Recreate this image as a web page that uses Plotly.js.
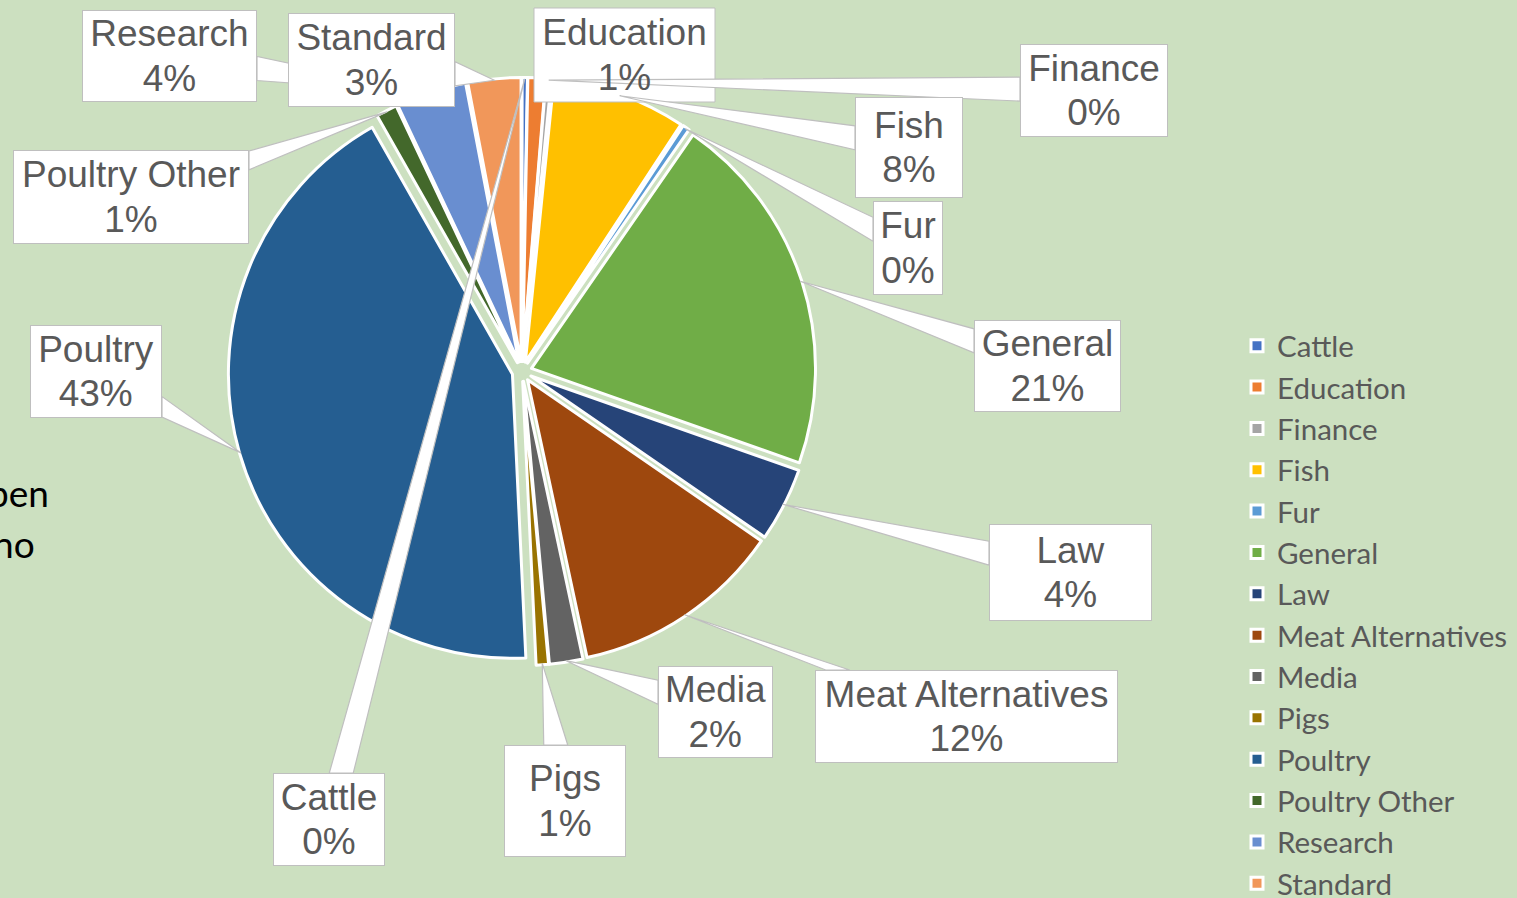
<!DOCTYPE html>
<html>
<head>
<meta charset="utf-8">
<script src="https://cdn.plot.ly/plotly-3.0.1.min.js"></script>
<style>
  html, body { margin: 0; padding: 0; background: #cce0c0; }
  #chart { width: 1517px; height: 898px; }
</style>
</head>
<body>
<div id="chart"></div>
<script>
// ---- data ----
const categories = ['Cattle', 'Education', 'Finance', 'Fish', 'Fur', 'General', 'Law',
  'Meat Alternatives', 'Media', 'Pigs', 'Poultry', 'Poultry Other', 'Research', 'Standard'];
const counts = [3, 10, 3, 76, 4, 207, 42, 120, 19, 7, 424, 12, 40, 30];
const sliceColors = ['#4472C4', '#ED7D31', '#A5A5A5', '#FFC000', '#5B9BD5', '#70AD47', '#264478',
  '#9E480E', '#636363', '#997300', '#255E91', '#43682B', '#698ED0', '#F1975A'];

// ---- layout helpers (label box placement in pixels: centre x, centre y, width, height) ----
const W = 1517, H = 898;
const labelBoxes = {
  'Cattle': [329, 819.5, 112, 93],
  'Education': [624.5, 55, 181, 94],
  'Finance': [1094, 90.5, 148, 93],
  'Fish': [909, 147.5, 108, 101],
  'Fur': [908, 248, 70, 94],
  'General': [1047.5, 366, 147, 92],
  'Law': [1070.5, 572.5, 163, 97],
  'Meat Alternatives': [966.5, 716.5, 303, 93],
  'Media': [715.5, 712, 115, 92],
  'Pigs': [565, 801, 122, 112],
  'Poultry': [96, 371.5, 132, 93],
  'Poultry Other': [131, 197, 236, 94],
  'Research': [169.5, 56, 175, 92],
  'Standard': [371.5, 60, 167, 94]
};
const boxesAsShapes = ['Education']; // drawn beneath the leader wedges, as in the reference
const drawOrder = ['Poultry', 'Poultry Other', 'Research', 'Standard', 'Education', 'Finance', 'Fish',
  'Fur', 'General', 'Law', 'Meat Alternatives', 'Media', 'Pigs', 'Cattle'];

const pieCx = 522, pieCy = 371.5, pieHalf = 294, pull = 0.035;
const domX = [(pieCx - pieHalf) / W, (pieCx + pieHalf) / W];
const domY = [(H - pieCy - pieHalf) / H, (H - pieCy + pieHalf) / H];
const px = x => x / W, py = y => 1 - y / H;

const total = counts.reduce((a, b) => a + b, 0);
let cum = 0;
const items = categories.map((c, i) => {
  const frac = counts[i] / total;
  const mid = (cum + frac / 2) * 2 * Math.PI;
  cum += frac;
  return { c, i, mid };
});

const labelFont = { family: 'Liberation Sans, Arial, sans-serif', size: 34, color: '#595959' };
const span = s => '<span style="font-size:37px">' + s + '</span>';
const annotations = [];
const boxShapes = [];
const wedgeShapes = [];
const halfBase = 12;

drawOrder.forEach(name => {
  const it = items.find(d => d.c === name);
  const hx = pieCx + pieHalf * 0.995 * Math.sin(it.mid);
  const hy = pieCy - pieHalf * 0.995 * Math.cos(it.mid);
  const b = labelBoxes[name];
  const hw = b[2] / 2, hh = b[3] / 2;
  const dx = hx - b[0], dy = hy - b[1];
  const tx = dx === 0 ? Infinity : hw / Math.abs(dx);
  const ty = dy === 0 ? Infinity : hh / Math.abs(dy);
  const t = Math.min(tx, ty);
  if (t < 1) {
    const ex = b[0] + t * dx, ey = b[1] + t * dy;
    let p1, p2;
    if (tx < ty) {
      const ya = Math.max(b[1] - hh + 1, ey - halfBase), yb = Math.min(b[1] + hh - 1, ey + halfBase);
      p1 = [ex, ya]; p2 = [ex, yb];
    } else {
      const xa = Math.max(b[0] - hw + 1, ex - halfBase), xb = Math.min(b[0] + hw - 1, ex + halfBase);
      p1 = [xa, ey]; p2 = [xb, ey];
    }
    wedgeShapes.push({
      type: 'path', xref: 'paper', yref: 'paper', layer: 'above',
      path: 'M' + px(hx) + ',' + py(hy) + ' L' + px(p1[0]) + ',' + py(p1[1]) +
            ' L' + px(p2[0]) + ',' + py(p2[1]) + ' Z',
      fillcolor: '#ffffff', line: { color: '#bfbfbf', width: 1.2 }
    });
  }
  const pct = Math.round(counts[it.i] / total * 100) + '%';
  const asShape = boxesAsShapes.includes(name);
  if (asShape) {
    boxShapes.push({
      type: 'rect', xref: 'paper', yref: 'paper', layer: 'above',
      x0: px(b[0] - hw), x1: px(b[0] + hw), y0: py(b[1] + hh), y1: py(b[1] - hh),
      fillcolor: '#ffffff', line: { color: '#bfbfbf', width: 1 }
    });
  }
  annotations.push({
    xref: 'paper', yref: 'paper',
    x: px(b[0]), y: py(b[1]), xanchor: 'center', yanchor: 'middle',
    showarrow: false,
    text: span(name) + '<br>' + span(pct),
    font: labelFont,
    bgcolor: asShape ? 'rgba(0,0,0,0)' : '#ffffff',
    bordercolor: asShape ? 'rgba(0,0,0,0)' : '#bfbfbf',
    borderwidth: 1, borderpad: 0,
    width: b[2] - 2, height: b[3] - 2,
    align: 'center', valign: 'middle'
  });
});
// partially hidden background slide text on the left edge
annotations.push({
  xref: 'paper', yref: 'paper', x: px(51), y: py(492), xanchor: 'right', yanchor: 'middle',
  showarrow: false, text: 'open', font: { family: 'Lato, sans-serif', size: 37, color: '#000000' }
});
annotations.push({
  xref: 'paper', yref: 'paper', x: px(37), y: py(543), xanchor: 'right', yanchor: 'middle',
  showarrow: false, text: 'no', font: { family: 'Lato, sans-serif', size: 37, color: '#000000' }
});

const trace = {
  type: 'pie',
  labels: categories,
  values: counts,
  sort: false,
  direction: 'clockwise',
  rotation: 0,
  pull: pull,
  textinfo: 'none',
  hoverinfo: 'label+percent',
  marker: { colors: sliceColors, line: { color: '#ffffff', width: 3 } },
  domain: { x: domX, y: domY }
};

const layout = {
  width: W, height: H,
  margin: { l: 0, r: 0, t: 0, b: 0, autoexpand: false },
  paper_bgcolor: '#cce0c0',
  plot_bgcolor: '#cce0c0',
  showlegend: true,
  legend: {
    x: 1237 / W, xanchor: 'left',
    y: 1 - 320 / H, yanchor: 'top',
    font: { family: 'Lato, sans-serif', size: 29.5, color: '#595959' },
    bgcolor: 'rgba(0,0,0,0)',
    traceorder: 'normal'
  },
  shapes: boxShapes.concat(wedgeShapes),
  annotations: annotations
};

Plotly.newPlot('chart', [trace], layout, { displayModeBar: false, staticPlot: true });
</script>
</body>
</html>
